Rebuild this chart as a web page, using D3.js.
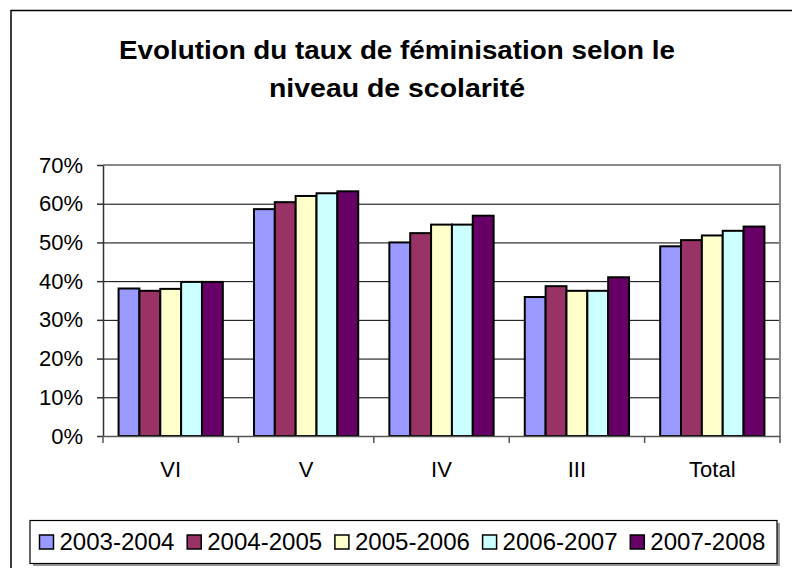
<!DOCTYPE html>
<html>
<head>
<meta charset="utf-8">
<script src="https://cdn.jsdelivr.net/npm/d3@7"></script>
<style>
  body { margin: 0; background: #fff; }
  svg { display: block; font-family: "Liberation Sans", Arial, sans-serif; }
</style>
</head>
<body>
<svg id="chart" width="792" height="568"></svg>
<script>
var categories = ["VI", "V", "IV", "III", "Total"];
var series = ["2003-2004", "2004-2005", "2005-2006", "2006-2007", "2007-2008"];
var colors = ["#9999ff", "#993366", "#ffffcc", "#ccffff", "#660066"];
// one array per school year, in category order
var v2003 = [0.381, 0.586, 0.500, 0.359, 0.490];
var v2004 = [0.375, 0.604, 0.524, 0.387, 0.506];
var v2005 = [0.380, 0.620, 0.546, 0.375, 0.518];
var v2006 = [0.398, 0.627, 0.546, 0.375, 0.530];
var v2007 = [0.398, 0.632, 0.569, 0.410, 0.541];
var yTicks = [0, 0.1, 0.2, 0.3, 0.4, 0.5, 0.6, 0.7];

var values = [v2003, v2004, v2005, v2006, v2007];

var svg = d3.select("#chart"),
    plot = {left: 103, right: 780, top: 165, bottom: 436},
    font = "Liberation Sans, Arial, sans-serif";

// outer chart frame (cut off at right/bottom like the source)
svg.append("path")
    .attr("d", "M11,568 L11,10.5 L792,10.5")
    .attr("fill", "none")
    .attr("stroke", "#000")
    .attr("stroke-width", 1.5);

// title
var title = svg.append("g")
    .attr("text-anchor", "middle")
    .attr("font-weight", "bold")
    .attr("font-size", 26)
    .attr("fill", "#000");
title.append("text").attr("x", 397).attr("y", 59)
    .attr("textLength", 556).attr("lengthAdjust", "spacingAndGlyphs")
    .text("Evolution du taux de féminisation selon le");
title.append("text").attr("x", 397).attr("y", 97)
    .attr("textLength", 256).attr("lengthAdjust", "spacingAndGlyphs")
    .text("niveau de scolarité");

var x0 = d3.scaleBand()
    .domain(categories)
    .range([plot.left, plot.right])
    .paddingInner(0.23)
    .paddingOuter(0.115);

var x1 = d3.scaleBand()
    .domain(series)
    .range([0, x0.bandwidth()]);

var y = d3.scaleLinear()
    .domain([0, 0.7])
    .range([plot.bottom, plot.top]);

// gridlines
svg.append("g")
    .attr("class", "grid")
    .attr("transform", "translate(" + plot.left + ",0)")
    .call(d3.axisLeft(y).tickValues(yTicks.slice(1, -1)).tickSize(-(plot.right - plot.left)).tickFormat(""))
    .call(function(g) { g.select(".domain").remove(); })
    .selectAll("line")
    .attr("stroke", "#000")
    .attr("stroke-width", 1);

// plot frame top / right
svg.append("path")
    .attr("d", "M" + plot.left + "," + plot.top + " L" + plot.right + "," + plot.top + " L" + plot.right + "," + plot.bottom)
    .attr("fill", "none")
    .attr("stroke", "#888")
    .attr("stroke-width", 2);

// bars
var rows = [];
categories.forEach(function(c, i) {
    series.forEach(function(s, j) {
        rows.push({cat: c, ser: s, idx: j, value: values[j][i]});
    });
});

svg.append("g")
    .selectAll("rect")
    .data(rows)
    .enter()
    .append("rect")
    .attr("x", function(d) { return x0(d.cat) + x1(d.ser); })
    .attr("y", function(d) { return y(d.value); })
    .attr("width", x1.bandwidth())
    .attr("height", function(d) { return y(0) - y(d.value); })
    .attr("fill", function(d) { return colors[d.idx]; })
    .attr("stroke", "#000")
    .attr("stroke-width", 2);

// y axis
var yAxis = svg.append("g")
    .attr("transform", "translate(" + plot.left + ",0)")
    .call(d3.axisLeft(y).tickValues(yTicks).tickFormat(d3.format(".0%")).tickSize(6).tickPadding(14).tickSizeOuter(0));
yAxis.select(".domain").attr("stroke", "#333").attr("stroke-width", 1.5);
yAxis.selectAll(".tick line").attr("stroke", "#333").attr("stroke-width", 1.5);
yAxis.selectAll("text").attr("font-size", 22).attr("fill", "#000").attr("font-family", font);

// x axis
var xAxis = svg.append("g")
    .attr("transform", "translate(0," + plot.bottom + ")")
    .call(d3.axisBottom(x0).tickSize(0).tickPadding(25).tickSizeOuter(0));
xAxis.select(".domain").attr("stroke", "#555").attr("stroke-width", 1.5);
xAxis.selectAll("text").attr("font-size", 22).attr("fill", "#000").attr("font-family", font);

// category boundary ticks
var bounds = categories.map(function(c) { return x0(c) - x0.step() * x0.paddingInner() / 2; });
bounds.push(plot.right);
xAxis.selectAll(".bound")
    .data(bounds)
    .enter()
    .append("line")
    .attr("class", "bound")
    .attr("x1", function(d) { return d; })
    .attr("x2", function(d) { return d; })
    .attr("y1", 0)
    .attr("y2", 7)
    .attr("stroke", "#555")
    .attr("stroke-width", 1.5);

// legend
var legend = svg.append("g");
legend.append("rect")
    .attr("x", 33).attr("y", 523)
    .attr("width", 747).attr("height", 43)
    .attr("fill", "#999");
legend.append("rect")
    .attr("x", 30).attr("y", 520.5)
    .attr("width", 747).attr("height", 43)
    .attr("fill", "#fff")
    .attr("stroke", "#000")
    .attr("stroke-width", 1.2);

var item = legend.selectAll(".item")
    .data(series)
    .enter()
    .append("g")
    .attr("class", "item")
    .attr("transform", function(d, i) { return "translate(" + (39.5 + i * 147.7) + ",0)"; });
item.append("rect")
    .attr("x", 0).attr("y", 535)
    .attr("width", 14).attr("height", 14)
    .attr("fill", function(d, i) { return colors[i]; })
    .attr("stroke", "#000")
    .attr("stroke-width", 1.5);
item.append("text")
    .attr("x", 20).attr("y", 550)
    .attr("font-size", 23)
    .attr("textLength", 115)
    .attr("lengthAdjust", "spacingAndGlyphs")
    .attr("fill", "#000")
    .text(function(d) { return d; });
</script>
</body>
</html>
